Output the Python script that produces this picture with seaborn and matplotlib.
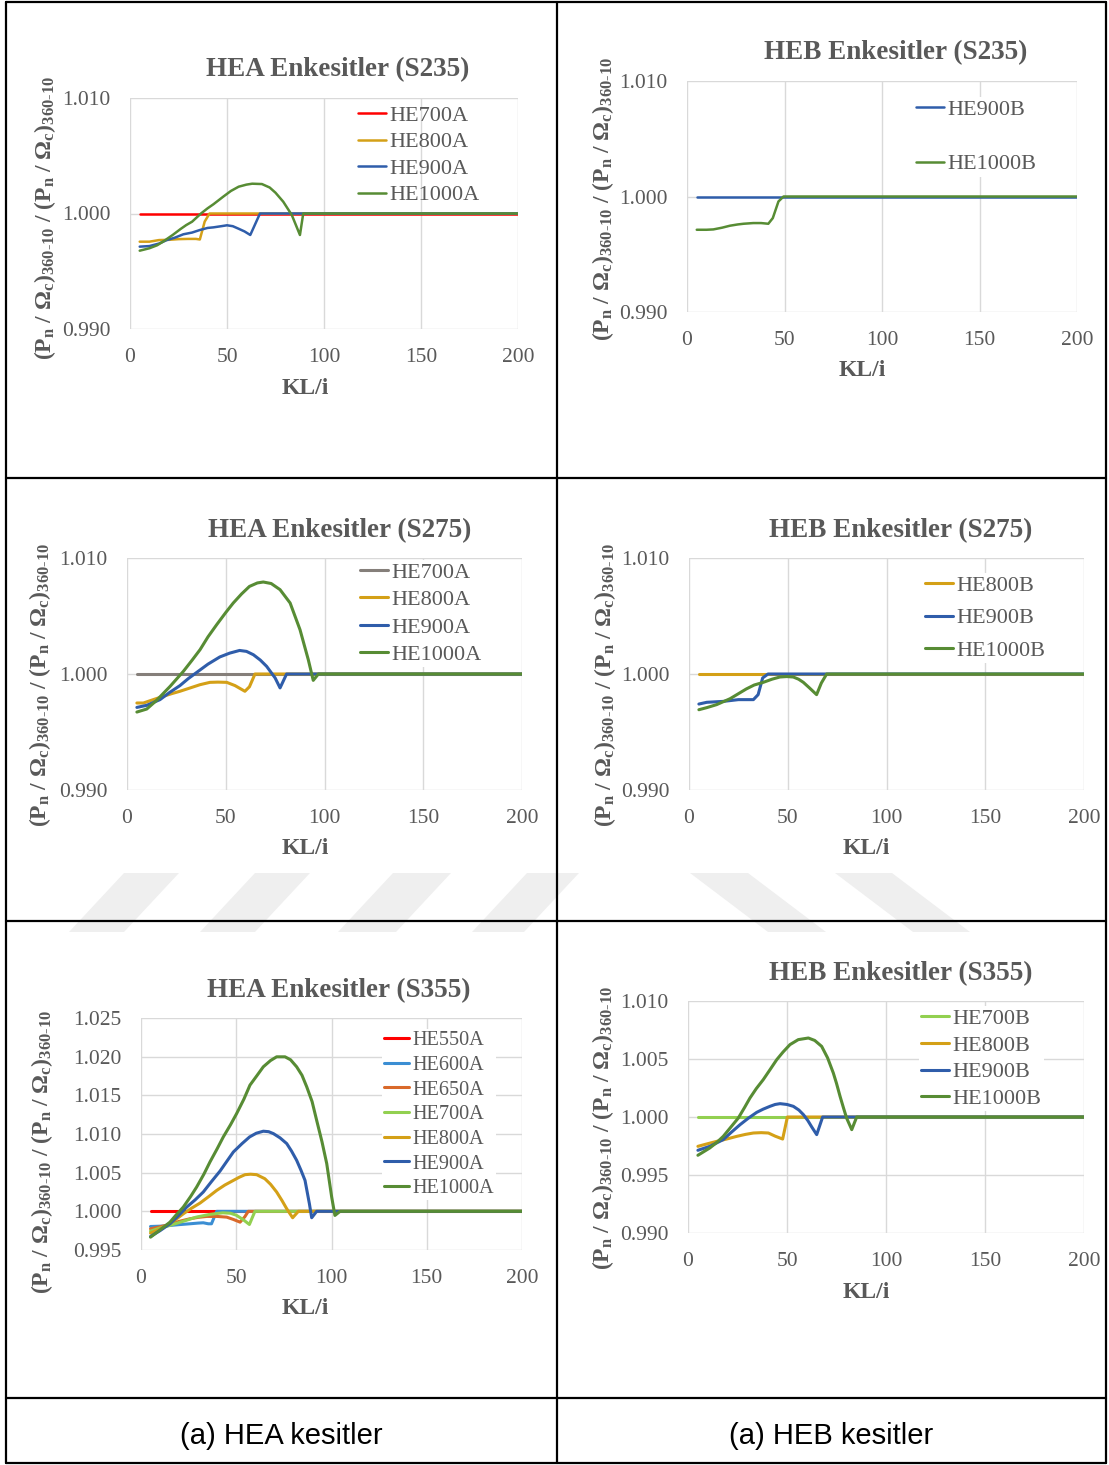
import matplotlib
matplotlib.use("Agg")
import numpy as np
import pandas as pd
import seaborn as sns
import matplotlib.pyplot as plt
from matplotlib.lines import Line2D
from matplotlib.patches import Polygon
from matplotlib.ticker import FormatStrFormatter, MultipleLocator

# ---------------- data ----------------
# HEA S235
a235_he700a_kl = [5, 200]
a235_he700a_v = [1.000, 1.000]
a235_he800a_kl = [5, 10, 15, 20, 25, 30, 34, 36, 38.5, 41, 200]
a235_he800a_v = [0.99756, 0.99756, 0.99770, 0.99772, 0.99778, 0.99780, 0.99780, 0.99775, 0.99930, 1.000, 1.000]
a235_he900a_kl = [5, 10, 15, 19, 23, 27.5, 32, 36, 40, 43, 47, 50, 53, 56, 59, 62, 67, 200]
a235_he900a_v = [0.99713, 0.99718, 0.99740, 0.99770, 0.99790, 0.99820, 0.99835, 0.99857, 0.99875, 0.99880, 0.99890, 0.99898, 0.99890, 0.99868, 0.99845, 0.99814, 1.000, 1.000]
a235_he1000a_kl = [5, 10, 14, 17, 22, 26, 29, 32, 36.6, 40, 43, 48, 52, 56, 60, 63, 68, 72, 75, 79, 83.4, 87.6, 89.3, 200]
a235_he1000a_v = [0.99678, 0.99699, 0.99725, 0.99756, 0.99814, 0.99865, 0.99900, 0.99929, 1.00000, 1.00045, 1.00080, 1.00145, 1.00195, 1.00232, 1.00250, 1.00258, 1.00255, 1.00225, 1.00180, 1.00102, 0.99987, 0.99814, 1.000, 1.000]

# HEB S235
b235_he900b_kl = [5, 200]
b235_he900b_v = [1.000, 1.000]
b235_he1000b_kl = [5, 10, 13.5, 18, 22, 26, 29, 34, 38, 41.7, 44, 46.9, 49.5, 200]
b235_he1000b_v = [0.99712, 0.99712, 0.99715, 0.99730, 0.99747, 0.99758, 0.99764, 0.99770, 0.99770, 0.99764, 0.99813, 0.99957, 1.000, 1.000]

# HEA S275
a275_he700a_kl = [5, 200]
a275_he700a_v = [1.000, 1.000]
a275_he800a_kl = [5, 8.3, 13.3, 18.4, 22.5, 26.8, 32, 37, 42, 46, 50.5, 54.7, 59.7, 62, 64.8, 200]
a275_he800a_v = [0.99750, 0.99750, 0.99779, 0.99808, 0.99830, 0.99851, 0.99880, 0.99908, 0.99928, 0.99930, 0.99928, 0.99900, 0.99851, 0.99890, 1.000, 1.000]
a275_he900a_kl = [5, 10, 16.7, 21.5, 26.8, 31, 35, 41, 47, 52, 57, 60.5, 64, 67.5, 70.7, 75, 77.5, 80.8, 200]
a275_he900a_v = [0.99712, 0.99730, 0.99779, 0.99840, 0.99900, 0.99960, 1.00010, 1.00085, 1.00147, 1.00180, 1.00203, 1.00195, 1.00166, 1.00120, 1.00066, 0.99966, 0.99880, 1.000, 1.000]
a275_he1000a_kl = [5, 10, 15, 21.8, 28.5, 33, 37, 41, 45.4, 50, 53.8, 58, 62, 66, 69, 73, 77.5, 82.6, 87.6, 91.8, 94.3, 96.9, 200]
a275_he1000a_v = [0.99672, 0.99698, 0.99773, 0.99893, 1.00022, 1.00120, 1.00210, 1.00320, 1.00425, 1.00530, 1.00612, 1.00690, 1.00755, 1.00785, 1.00793, 1.00780, 1.00727, 1.00612, 1.00382, 1.00123, 0.99945, 1.000, 1.000]

# HEB S275
b275_he800b_kl = [5, 200]
b275_he800b_v = [1.000, 1.000]
b275_he900b_kl = [5, 9, 17.4, 25, 32.6, 35, 37.3, 40, 200]
b275_he900b_v = [0.99741, 0.99756, 0.99764, 0.99779, 0.99779, 0.99822, 0.99966, 1.000, 1.000]
b275_he1000b_kl = [5, 9, 14, 20.8, 25, 29, 33, 37.6, 42, 46, 49.5, 52.8, 55.5, 57.9, 61, 64.6, 67, 69.7, 200]
b275_he1000b_v = [0.99692, 0.99710, 0.99736, 0.99787, 0.99830, 0.99871, 0.99905, 0.99928, 0.99955, 0.99974, 0.99978, 0.99974, 0.99955, 0.99928, 0.99880, 0.99822, 0.99922, 1.000, 1.000]

# HEA S355
a355_he550a_kl = [5, 200]
a355_he550a_v = [1.000, 1.000]
a355_he600a_kl = [5, 10, 15.2, 20, 25.7, 30, 32.7, 35.3, 37, 39.7, 200]
a355_he600a_v = [0.99804, 0.99808, 0.99817, 0.99828, 0.99839, 0.99848, 0.99852, 0.99839, 0.99839, 1.000, 1.000]
a355_he650a_kl = [5, 10, 15, 20, 25.7, 30, 34.5, 40, 45, 48.5, 52, 54.5, 56.3, 200]
a355_he650a_v = [0.99774, 0.99800, 0.99830, 0.99870, 0.99904, 0.99922, 0.99934, 0.99934, 0.99925, 0.99895, 0.99860, 0.99930, 1.000, 1.000]
a355_he700a_kl = [5, 10, 15, 22, 29, 36, 43, 47, 50, 53.5, 56.9, 59.8, 200]
a355_he700a_v = [0.99744, 0.99785, 0.99817, 0.99870, 0.99925, 0.99960, 0.99981, 0.99975, 0.99950, 0.99895, 0.99830, 1.000, 1.000]
a355_he800a_kl = [5, 9, 13.5, 18, 22.2, 26.5, 31, 35.5, 39.7, 44, 48.5, 51.5, 54.6, 57.5, 60.7, 65, 68, 71.2, 74, 76.5, 79.6, 82.6, 200]
a355_he800a_v = [0.99718, 0.99760, 0.99817, 0.99890, 0.99968, 1.00040, 1.00107, 1.00190, 1.00270, 1.00340, 1.00400, 1.00440, 1.00474, 1.00480, 1.00474, 1.00422, 1.00350, 1.00250, 1.00140, 1.00033, 0.99917, 1.000, 1.000]
a355_he900a_kl = [5, 10, 15.2, 19.5, 24, 28.5, 32.7, 37, 41.5, 45, 48.5, 53, 57, 60.5, 64.2, 67, 69.5, 73, 76.5, 79, 81.7, 84, 86.1, 88.4, 89.6, 92.2, 200]
a355_he900a_v = [0.99675, 0.99750, 0.99839, 0.99940, 1.00055, 1.00150, 1.00250, 1.00385, 1.00521, 1.00645, 1.00768, 1.00875, 1.00962, 1.01010, 1.01036, 1.01030, 1.01005, 1.00950, 1.00876, 1.00780, 1.00660, 1.00530, 1.00400, 1.00098, 0.99917, 1.000, 1.000]
a355_he1000a_kl = [5, 10, 15.2, 18.5, 22.2, 26, 29.2, 33, 36.2, 40, 43.2, 47, 50.2, 54, 57.2, 61, 64.2, 68, 71.2, 75.6, 78.5, 81.7, 84.5, 87, 89.8, 92.2, 95, 97.5, 100.1, 101.8, 104.5, 200]
a355_he1000a_v = [0.99666, 0.99760, 0.99860, 0.99955, 1.00055, 1.00190, 1.00314, 1.00480, 1.00638, 1.00810, 1.00962, 1.01120, 1.01264, 1.01450, 1.01632, 1.01760, 1.01869, 1.01950, 1.01998, 1.01998, 1.01960, 1.01869, 1.01760, 1.01610, 1.01420, 1.01178, 1.00900, 1.00617, 1.00184, 0.99947, 1.000, 1.000]

# HEB S355
b355_he700b_kl = [5, 200]
b355_he700b_v = [1.000, 1.000]
b355_he800b_kl = [5, 10, 14.5, 19.5, 24.6, 29, 33, 37, 40.6, 44, 47.8, 50.2, 200]
b355_he800b_v = [0.99747, 0.99770, 0.99790, 0.99810, 0.99833, 0.99850, 0.99862, 0.99865, 0.99862, 0.99835, 0.99810, 1.000, 1.000]
b355_he900b_kl = [5, 11, 17.8, 22, 26.3, 30.5, 34.7, 38, 41.4, 44, 46.5, 50, 53.2, 56, 58.3, 60.5, 62.5, 65, 68, 200]
b355_he900b_v = [0.99713, 0.99747, 0.99805, 0.99870, 0.99934, 0.99990, 1.00040, 1.00068, 1.00092, 1.00108, 1.00115, 1.00108, 1.00092, 1.00060, 1.00020, 0.99970, 0.99914, 0.99848, 1.000, 1.000]
b355_he1000b_kl = [5, 11, 14.5, 17.8, 21.5, 25.4, 28.5, 31.3, 34.5, 38, 41.5, 44.8, 48, 51.5, 55.7, 60.8, 64, 67.5, 70.5, 73.4, 75, 76.8, 78.5, 80.1, 82.7, 85.2, 200]
b355_he1000b_v = [0.99670, 0.99733, 0.99780, 0.99833, 0.99910, 0.99991, 1.00080, 1.00164, 1.00245, 1.00322, 1.00410, 1.00494, 1.00560, 1.00624, 1.00667, 1.00681, 1.00660, 1.00609, 1.00510, 1.00379, 1.00290, 1.00178, 1.00080, 0.99991, 0.99891, 1.000, 1.000]

# --------------- styling ----------------
RED = '#FF0000'
GOLD = '#D4A017'
BLUE = '#2F5DAA'
GREEN = '#578C34'
GRAY = '#857F7A'
LBLUE = '#3B8ED3'
ORANGE = '#D9692A'
LGREEN = '#92D050'
TXT = '#595959'
GRID = '#D9D9D9'

sns.set_theme(style='white')
plt.rcParams['font.family'] = ['Liberation Serif', 'DejaVu Serif']
plt.rcParams['mathtext.fontset'] = 'custom'
plt.rcParams['mathtext.rm'] = 'Liberation Serif'
plt.rcParams['mathtext.bf'] = 'Liberation Serif:bold'
plt.rcParams['mathtext.it'] = 'Liberation Serif:italic'

W, H = 1109, 1465
fig = plt.figure(figsize=(W / 100, H / 100), dpi=100)
fig.patch.set_facecolor('white')


def fx(x):
    return x / W


def fy(y):
    return 1 - y / H


# faint watermark stripes (background decoration)
WM = '#EFEFEF'
for xt, w, d in [(124, 55, -55), (255, 55, -55), (393, 58, -55), (527, 52, -55),
                 (690, 58, 78), (835, 57, 78)]:
    pts = [(fx(xt), fy(873)), (fx(xt + w), fy(873)),
           (fx(xt + w + d), fy(932)), (fx(xt + d), fy(932))]
    fig.add_artist(Polygon(pts, closed=True, facecolor=WM, edgecolor='none',
                           transform=fig.transFigure, zorder=0))


def make_ax(x0, x1, ytop, ybot, ylim, ystep, fmt='%.3f'):
    ax = fig.add_axes([fx(x0), fy(ybot), (x1 - x0) / W, (ybot - ytop) / H])
    ax.set_xlim(0, 200)
    ax.set_ylim(*ylim)
    ax.xaxis.set_major_locator(MultipleLocator(50))
    ax.yaxis.set_major_locator(MultipleLocator(ystep))
    ax.yaxis.set_major_formatter(FormatStrFormatter(fmt))
    ax.grid(True, color=GRID, linewidth=1.0)
    ax.set_axisbelow(True)
    for s in ax.spines.values():
        s.set_visible(False)
    ax.tick_params(axis='both', length=0, labelsize=15.5, labelcolor=TXT)
    ax.tick_params(axis='x', pad=14)
    ax.tick_params(axis='y', pad=14)
    return ax


def draw(ax, series, lw):
    for kl, v, color, name in series:
        df = pd.DataFrame({'KL': kl, 'val': v})
        sns.lineplot(data=df, x='KL', y='val', ax=ax, color=color, label=name,
                     linewidth=lw, sort=False, estimator=None)
    ax.set_xlabel('')
    ax.set_ylabel('')


def legend(ax, x, y, fs, spacing, frame=True):
    leg = ax.legend(loc='upper left', bbox_to_anchor=(fx(x), fy(y)),
                    bbox_transform=fig.transFigure, fontsize=fs,
                    handlelength=1.25, handletextpad=0.15, labelspacing=spacing,
                    borderpad=0.1, borderaxespad=0, frameon=frame,
                    facecolor='white', edgecolor='none', framealpha=1.0)
    for t in leg.get_texts():
        t.set_color(TXT)
    if frame:
        leg.get_frame().set_boxstyle('square', pad=0)


ylab = r'$\mathbf{(P_n\ /\ \Omega_c)_{360\text{-}10}\ /\ (P_n\ /\ \Omega_c)_{360\text{-}10}}$'


def labels(title, tx, ty, kx, ky, yx, yy, ylfs=17):
    fig.text(fx(tx), fy(ty), title, ha='center', va='center', fontsize=19.5,
             fontweight='bold', color=TXT)
    fig.text(fx(kx), fy(ky), 'KL/i', ha='center', va='center', fontsize=17,
             fontweight='bold', color=TXT)
    fig.text(fx(yx), fy(yy), ylab, ha='center', va='center', fontsize=ylfs,
             rotation=90, color=TXT)


# Panel 1
ax1 = make_ax(130, 518, 98, 329, (0.990, 1.010), 0.010)
draw(ax1, [(a235_he700a_kl, a235_he700a_v, RED, 'HE700A'),
           (a235_he800a_kl, a235_he800a_v, GOLD, 'HE800A'),
           (a235_he900a_kl, a235_he900a_v, BLUE, 'HE900A'),
           (a235_he1000a_kl, a235_he1000a_v, GREEN, 'HE1000A')], 1.8)
legend(ax1, 356, 103, 16, 0.27, frame=False)
labels('HEA Enkesitler (S235)', 338, 70, 305, 388, 45, 218)

# Panel 2
ax2 = make_ax(687, 1077, 81, 312, (0.990, 1.010), 0.010)
draw(ax2, [(b235_he900b_kl, b235_he900b_v, BLUE, 'HE900B'),
           (b235_he1000b_kl, b235_he1000b_v, GREEN, 'HE1000B')], 1.8)
legend(ax2, 914, 97, 16, 1.53)
labels('HEB Enkesitler (S235)', 896, 53, 862, 371, 603, 199)

# Panel 3
ax3 = make_ax(127, 522, 558, 790, (0.990, 1.010), 0.010)
draw(ax3, [(a275_he700a_kl, a275_he700a_v, GRAY, 'HE700A'),
           (a275_he800a_kl, a275_he800a_v, GOLD, 'HE800A'),
           (a275_he900a_kl, a275_he900a_v, BLUE, 'HE900A'),
           (a275_he1000a_kl, a275_he1000a_v, GREEN, 'HE1000A')], 2.2)
legend(ax3, 358, 560, 16, 0.31)
labels('HEA Enkesitler (S275)', 340, 531, 305, 849, 40, 685)

# Panel 4
ax4 = make_ax(689, 1084, 558, 790, (0.990, 1.010), 0.010)
draw(ax4, [(b275_he800b_kl, b275_he800b_v, GOLD, 'HE800B'),
           (b275_he900b_kl, b275_he900b_v, BLUE, 'HE900B'),
           (b275_he1000b_kl, b275_he1000b_v, GREEN, 'HE1000B')], 2.2)
legend(ax4, 923, 573, 16, 0.54)
labels('HEB Enkesitler (S275)', 901, 531, 866, 849, 605, 685)

# Panel 5
ax5 = make_ax(141, 522, 1018, 1250, (0.995, 1.025), 0.005)
draw(ax5, [(a355_he550a_kl, a355_he550a_v, RED, 'HE550A'),
           (a355_he600a_kl, a355_he600a_v, LBLUE, 'HE600A'),
           (a355_he650a_kl, a355_he650a_v, ORANGE, 'HE650A'),
           (a355_he700a_kl, a355_he700a_v, LGREEN, 'HE700A'),
           (a355_he800a_kl, a355_he800a_v, GOLD, 'HE800A'),
           (a355_he900a_kl, a355_he900a_v, BLUE, 'HE900A'),
           (a355_he1000a_kl, a355_he1000a_v, GREEN, 'HE1000A')], 2.2)
legend(ax5, 382, 1029, 14.6, 0.27)
labels('HEA Enkesitler (S355)', 339, 991, 305, 1309, 42, 1152)

# Panel 6
ax6 = make_ax(688, 1084, 1001, 1233, (0.990, 1.010), 0.005)
draw(ax6, [(b355_he700b_kl, b355_he700b_v, LGREEN, 'HE700B'),
           (b355_he800b_kl, b355_he800b_v, GOLD, 'HE800B'),
           (b355_he900b_kl, b355_he900b_v, BLUE, 'HE900B'),
           (b355_he1000b_kl, b355_he1000b_v, GREEN, 'HE1000B')], 2.2)
legend(ax6, 919, 1006, 16, 0.28)
labels('HEB Enkesitler (S355)', 901, 974, 866, 1292, 603, 1128)

# captions
fig.text(fx(281), fy(1436), '(a) HEA kesitler', ha='center', va='center',
         fontsize=21, family='Liberation Sans', color='black')
fig.text(fx(831), fy(1436), '(a) HEB kesitler', ha='center', va='center',
         fontsize=21, family='Liberation Sans', color='black')


# table lines
def hline(y, x0=6, x1=1106, lw=1.6):
    fig.add_artist(Line2D([fx(x0), fx(x1)], [fy(y), fy(y)], color='black', lw=lw,
                          transform=fig.transFigure))


def vline(x, y0=2, y1=1463, lw=1.6):
    fig.add_artist(Line2D([fx(x), fx(x)], [fy(y0), fy(y1)], color='black', lw=lw,
                          transform=fig.transFigure))


for y in [2, 478, 921, 1398, 1463]:
    hline(y)
for x in [6, 557, 1106]:
    vline(x)

fig.savefig('out.png', dpi=100, facecolor='white')
